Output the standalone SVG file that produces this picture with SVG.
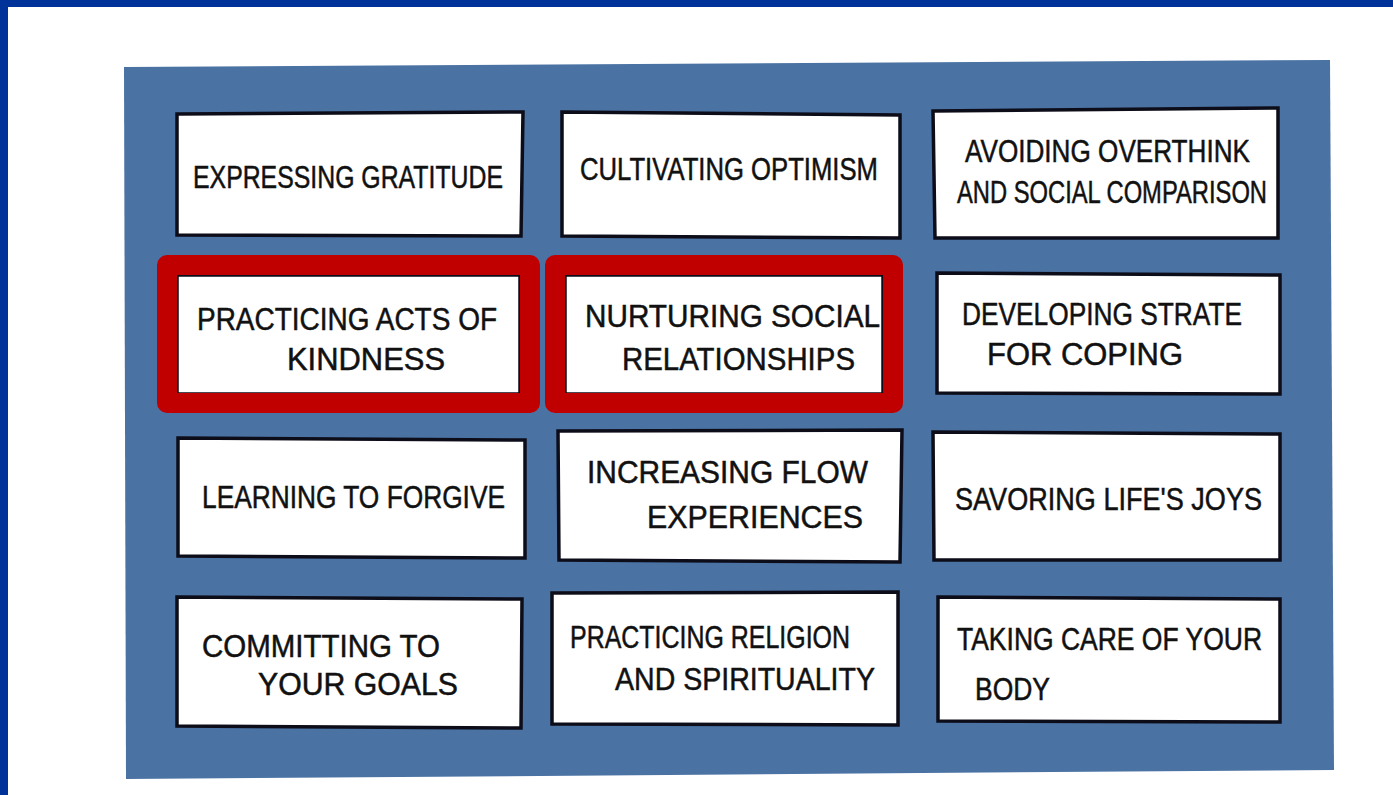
<svg xmlns="http://www.w3.org/2000/svg" width="1393" height="795" viewBox="0 0 1393 795">
<style>
.card{fill:#ffffff;stroke:#0d0d1a;stroke-width:3.5;stroke-linejoin:miter}
.t{font-family:"Liberation Sans","DejaVu Sans",sans-serif;font-size:31px;fill:#111111;stroke:#111111;stroke-width:0.5}
.hl{fill:none;stroke:#c00000;stroke-width:20;stroke-linejoin:round}
</style>
<rect x="0" y="0" width="1393" height="795" fill="#ffffff"/>
<rect x="0" y="0" width="1393" height="7" fill="#003399"/>
<rect x="0" y="0" width="8" height="795" fill="#003399"/>
<g id="board">
<polygon points="124,67 1330,60 1334,770 126,779" fill="#4a72a3"/>
</g>
<g id="connectors"/>
<g id="n1">
<polygon class="card" points="177,114 523,112 521,236 177,235"/>
<text class="t" x="193" y="188" textLength="310" lengthAdjust="spacingAndGlyphs">EXPRESSING GRATITUDE</text>
</g>
<g id="n2">
<polygon class="card" points="562,112 900,115 900,238 562,236"/>
<text class="t" x="580" y="180" textLength="298" lengthAdjust="spacingAndGlyphs">CULTIVATING OPTIMISM</text>
</g>
<g id="n3">
<polygon class="card" points="933,111 1278,108 1278,238 935,238"/>
<text class="t" x="965" y="162" textLength="285" lengthAdjust="spacingAndGlyphs">AVOIDING OVERTHINK</text>
<text class="t" x="957" y="203" textLength="310" lengthAdjust="spacingAndGlyphs">AND SOCIAL COMPARISON</text>
</g>
<g id="n4">
<polygon class="card" points="177,275 520,275 520,394 177,394"/>
<text class="t" x="197" y="330" textLength="300" lengthAdjust="spacingAndGlyphs">PRACTICING ACTS OF</text>
<text class="t" x="287" y="370" textLength="158" lengthAdjust="spacingAndGlyphs">KINDNESS</text>
</g>
<g id="n5">
<polygon class="card" points="565,275 883,275 883,394 565,394"/>
<text class="t" x="585" y="327" textLength="295" lengthAdjust="spacingAndGlyphs">NURTURING  SOCIAL</text>
<text class="t" x="622" y="370" textLength="233" lengthAdjust="spacingAndGlyphs">RELATIONSHIPS</text>
</g>
<g id="n6">
<polygon class="card" points="937,273 1280,275 1280,394 937,393"/>
<text class="t" x="962" y="325" textLength="280" lengthAdjust="spacingAndGlyphs">DEVELOPING STRATE</text>
<text class="t" x="987" y="365" textLength="196" lengthAdjust="spacingAndGlyphs">FOR COPING</text>
</g>
<g id="n7">
<polygon class="card" points="178,438 525,440 525,558 178,556"/>
<text class="t" x="202" y="508" textLength="303" lengthAdjust="spacingAndGlyphs">LEARNING TO FORGIVE</text>
</g>
<g id="n8">
<polygon class="card" points="558,431 902,430 900,562 559,560"/>
<text class="t" x="587" y="483" textLength="281" lengthAdjust="spacingAndGlyphs">INCREASING FLOW</text>
<text class="t" x="647" y="528" textLength="216" lengthAdjust="spacingAndGlyphs">EXPERIENCES</text>
</g>
<g id="n9">
<polygon class="card" points="933,432 1280,434 1280,560 934,560"/>
<text class="t" x="955" y="510" textLength="307" lengthAdjust="spacingAndGlyphs">SAVORING LIFE'S JOYS</text>
</g>
<g id="n10">
<polygon class="card" points="177,597 522,599 521,728 177,726"/>
<text class="t" x="202" y="657" textLength="238" lengthAdjust="spacingAndGlyphs">COMMITTING TO</text>
<text class="t" x="258" y="695" textLength="200" lengthAdjust="spacingAndGlyphs">YOUR GOALS</text>
</g>
<g id="n11">
<polygon class="card" points="552,593 898,592 898,725 552,724"/>
<text class="t" x="570" y="648" textLength="280" lengthAdjust="spacingAndGlyphs">PRACTICING RELIGION</text>
<text class="t" x="615" y="690" textLength="260" lengthAdjust="spacingAndGlyphs">AND SPIRITUALITY</text>
</g>
<g id="n12">
<polygon class="card" points="938,597 1280,599 1280,722 938,721"/>
<text class="t" x="957" y="650" textLength="305" lengthAdjust="spacingAndGlyphs">TAKING CARE OF YOUR</text>
<text class="t" x="975" y="700" textLength="75" lengthAdjust="spacingAndGlyphs">BODY</text>
</g>
<g id="highlights">
<rect class="hl" x="167" y="265" width="363" height="138"/>
<rect class="hl" x="555" y="265" width="338" height="138"/>
</g>
</svg>
